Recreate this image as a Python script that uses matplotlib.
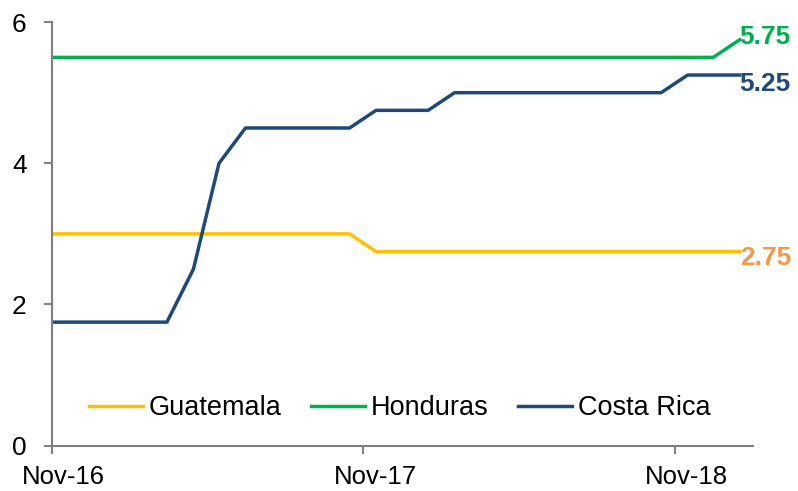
import pandas as pd
import matplotlib
matplotlib.use("Agg")
import matplotlib.pyplot as plt
import matplotlib.transforms as mtransforms

plt.rcParams['font.family'] = ['Liberation Sans', 'DejaVu Sans']

# observation dates: start of window, then mid-month readings Nov-16 .. Jan-19
dates = ['2016-11-01'] + [d.strftime('%Y-%m-16') for d in pd.date_range('2016-11-01', '2019-01-01', freq='MS')]
dates = pd.to_datetime(dates)

guatemala = [3.0] + [3.0] * 12 + [2.75] * 15
honduras = [5.5] + [5.5] * 26 + [5.75]
costa_rica = [1.75] + [1.75] * 5 + [2.5, 4.0] + [4.5] * 5 + [4.75] * 3 + [5.0] * 9 + [5.25] * 3

tick_dates = pd.to_datetime(['2016-11-01', '2017-11-01', '2018-11-01'])
tick_labels = ['Nov-16', 'Nov-17', 'Nov-18']

fig = plt.figure(figsize=(7.98, 4.91), dpi=100)
ax = fig.add_axes([0.0648, 0.0923, 0.8792, 0.8627])

ax.plot(dates, guatemala, color='#FFC000', lw=2.5, label='Guatemala')
ax.plot(dates, honduras, color='#00B050', lw=2.5, label='Honduras')
ax.plot(dates, costa_rica, color='#1F497D', lw=2.5, label='Costa Rica')

# end labels
ax.annotate('5.75', (dates[-1], honduras[-1]), xytext=(0, 2), textcoords='offset points',
            ha='left', va='center', fontsize=19, fontweight='bold', color='#00B050')
ax.annotate('5.25', (dates[-1], costa_rica[-1]), xytext=(0, -6.5), textcoords='offset points',
            ha='left', va='center', fontsize=19, fontweight='bold', color='#1F497D')
ax.annotate('2.75', (dates[-1], guatemala[-1]), xytext=(0, -4.5), textcoords='offset points',
            ha='left', va='center', fontsize=19, fontweight='bold', color='#F79646')

ax.set_xlim(pd.Timestamp('2016-11-01'), pd.Timestamp('2019-02-01'))
ax.set_ylim(0, 6)
ax.set_yticks([0, 2, 4, 6])
ax.set_xticks(tick_dates)
ax.set_xticklabels(tick_labels)

for s in ['top', 'right']:
    ax.spines[s].set_visible(False)
for s in ['left', 'bottom']:
    ax.spines[s].set_color('#808080')
    ax.spines[s].set_linewidth(1.5)
ax.tick_params(axis='both', colors='#808080', length=6, width=1.5, labelcolor='black')
ax.tick_params(axis='x', pad=8, labelsize=18.5)
ax.tick_params(axis='y', pad=12, labelsize=19)

# x labels sit a little right of their ticks in the original
shift = mtransforms.ScaledTranslation(12 / 100, 0, fig.dpi_scale_trans)
for lab in ax.get_xticklabels():
    lab.set_transform(lab.get_transform() + shift)

leg = ax.legend(loc='center', bbox_to_anchor=(0.496, 0.089), ncol=3, frameon=False,
                fontsize=19.5, handlelength=2.0, handletextpad=0.2, columnspacing=1.1)

fig.savefig('out.png', dpi=100)
